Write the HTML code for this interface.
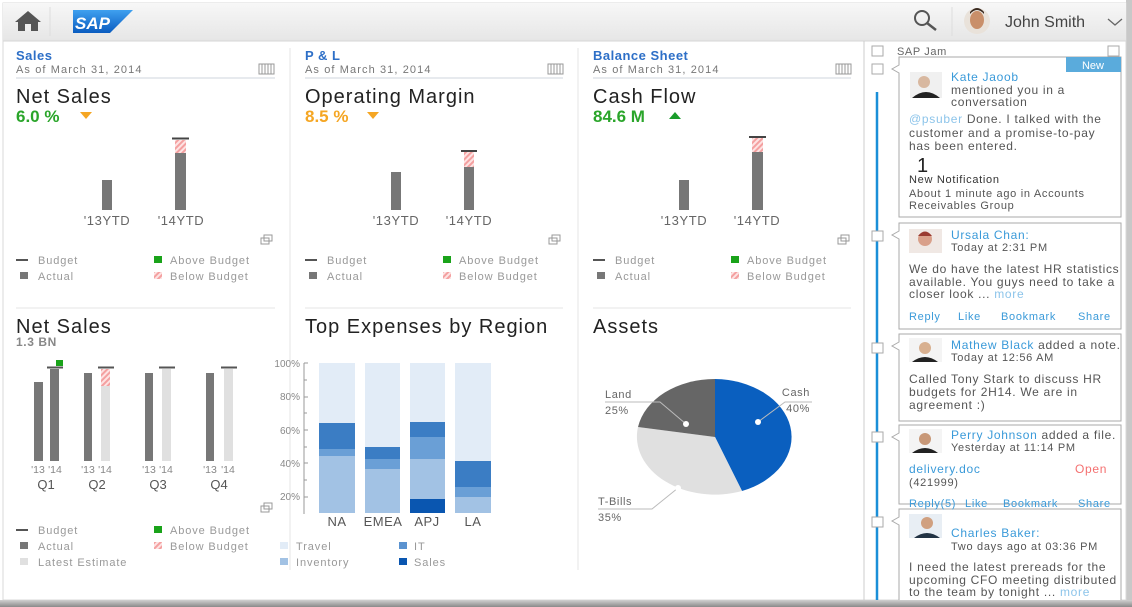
<!DOCTYPE html>
<html><head><meta charset="utf-8"><style>
html,body{margin:0;padding:0;background:#fff;}
svg{display:block;font-family:"Liberation Sans",sans-serif;}
.t{font-size:20px;letter-spacing:1px;fill:#222}
.sub{letter-spacing:1.1px}
.lg text{letter-spacing:0.9px}
.sb text{letter-spacing:0.7px}
.yl{font-size:13px;letter-spacing:0.6px}
</style></head><body>
<svg width="1132" height="607" viewBox="0 0 1132 607" xmlns="http://www.w3.org/2000/svg">
<defs>
<pattern id="h" width="4" height="4" patternUnits="userSpaceOnUse" patternTransform="rotate(45)">
<rect width="4" height="4" fill="#fde3e3"/><rect width="2" height="4" fill="#f4a0a0"/></pattern>
<linearGradient id="hd" x1="0" y1="0" x2="0" y2="1"><stop offset="0" stop-color="#f7f7f7"/><stop offset="1" stop-color="#e6e6e6"/></linearGradient>
<linearGradient id="sh" x1="0" y1="0" x2="0" y2="1"><stop offset="0" stop-color="#d0d0d0"/><stop offset="1" stop-color="#8a8a8a"/></linearGradient>
<linearGradient id="sap" x1="0" y1="0" x2="0" y2="1"><stop offset="0" stop-color="#3fa0ef"/><stop offset="1" stop-color="#0a5cc0"/></linearGradient>
</defs>
<rect x="0" y="0" width="1132" height="607" fill="#fff"/>
<rect x="1126" y="0" width="6" height="607" fill="#c8c8c8"/>
<rect x="3" y="3" width="1123" height="597" fill="#fff" stroke="#d8d8d8"/>
<rect x="3" y="3" width="1123" height="38" fill="url(#hd)"/>
<line x1="3" y1="41" x2="1126" y2="41" stroke="#d6d6d6"/>
<path d="M15 22 L28 11 L41 22 L38 22 L38 31 L18 31 L18 22 Z" fill="#555"/>
<rect x="25" y="24" width="6" height="7" fill="#eee"/>
<line x1="50" y1="7" x2="50" y2="36" stroke="#ddd"/>
<path d="M73 10 L133 10 L110 33 L73 33 Z" fill="url(#sap)"/>
<text x="75" y="29" font-size="17" font-weight="bold" fill="#fff" font-style="italic">SAP</text>
<circle cx="922" cy="18" r="7" fill="none" stroke="#555" stroke-width="2"/>
<line x1="927" y1="23" x2="936" y2="30" stroke="#555" stroke-width="2.5"/>
<line x1="952" y1="7" x2="952" y2="36" stroke="#ddd"/>
<circle cx="977" cy="21" r="13" fill="#e9e2da"/>
<ellipse cx="977" cy="20" rx="7" ry="9" fill="#c98f6a"/>
<path d="M970 14 Q977 6 984 14 L984 12 Q977 4 970 12Z" fill="#3a2a20"/>
<text x="1005" y="27" font-size="16" fill="#444">John Smith</text>
<path d="M1108 19 L1115 25 L1122 19" fill="none" stroke="#666" stroke-width="1.3"/>
<line x1="290" y1="48" x2="290" y2="570" stroke="#e6e6e6"/>
<line x1="578" y1="48" x2="578" y2="570" stroke="#e6e6e6"/>
<line x1="864" y1="41" x2="864" y2="600" stroke="#ccc"/>

<g>
<text x="16" y="60" font-size="13" fill="#2d6fc7" font-weight="bold" letter-spacing="0.5">Sales</text>
<text x="16" y="73" font-size="11" fill="#777" class="sub">As of March 31, 2014</text>
<line x1="16" y1="78" x2="275" y2="78" stroke="#dfe3e8" stroke-width="1.5"/>
<text x="16" y="103" class="t">Net Sales</text>
<text x="16" y="122" font-size="17" fill="#2aa52a" font-weight="bold">6.0 %</text>
<path d="M80 112 L92 112 L86 119 Z" fill="#f5a623"/>
<rect x="102" y="180" width="10" height="30" fill="#777"/>
<rect x="175" y="153" width="11" height="57" fill="#777"/>
<rect x="175" y="140" width="11" height="13" fill="url(#h)"/>
<line x1="172" y1="138.5" x2="189" y2="138.5" stroke="#444" stroke-width="2"/>
<text x="107" y="225" class="yl" fill="#666" text-anchor="middle">'13YTD</text>
<text x="181" y="225" class="yl" fill="#666" text-anchor="middle">'14YTD</text>
</g>
<g>
<text x="305" y="60" font-size="13" fill="#2d6fc7" font-weight="bold" letter-spacing="0.5">P &amp; L</text>
<text x="305" y="73" font-size="11" fill="#777" class="sub">As of March 31, 2014</text>
<line x1="305" y1="78" x2="563" y2="78" stroke="#dfe3e8" stroke-width="1.5"/>
<text x="305" y="103" class="t">Operating Margin</text>
<text x="305" y="122" font-size="17" fill="#f5a623" font-weight="bold">8.5 %</text>
<path d="M367 112 L379 112 L373 119 Z" fill="#f5a623"/>
<rect x="391" y="172" width="10" height="38" fill="#777"/>
<rect x="464" y="167" width="10" height="43" fill="#777"/>
<rect x="464" y="152" width="10" height="15" fill="url(#h)"/>
<line x1="461" y1="151" x2="477" y2="151" stroke="#444" stroke-width="2"/>
<text x="396" y="225" class="yl" fill="#666" text-anchor="middle">'13YTD</text>
<text x="469" y="225" class="yl" fill="#666" text-anchor="middle">'14YTD</text>
</g>
<g>
<text x="593" y="60" font-size="13" fill="#2d6fc7" font-weight="bold" letter-spacing="0.5">Balance Sheet</text>
<text x="593" y="73" font-size="11" fill="#777" class="sub">As of March 31, 2014</text>
<line x1="593" y1="78" x2="851" y2="78" stroke="#dfe3e8" stroke-width="1.5"/>
<text x="593" y="103" class="t">Cash Flow</text>
<text x="593" y="122" font-size="17" fill="#2aa52a" font-weight="bold">84.6 M</text>
<path d="M669 119 L681 119 L675 112 Z" fill="#1a9c2a"/>
<rect x="679" y="180" width="10" height="30" fill="#777"/>
<rect x="752" y="152" width="11" height="58" fill="#777"/>
<rect x="752" y="138" width="11" height="14" fill="url(#h)"/>
<line x1="749" y1="137" x2="766" y2="137" stroke="#444" stroke-width="2"/>
<text x="684" y="225" class="yl" fill="#666" text-anchor="middle">'13YTD</text>
<text x="757" y="225" class="yl" fill="#666" text-anchor="middle">'14YTD</text>
</g>
<g fill="none" stroke="#999" stroke-width="1">
<rect x="259" y="64" width="15" height="10"/><path d="M262 64V74M265 64V74M268 64V74M271 64V74"/>
<rect x="548" y="64" width="15" height="10"/><path d="M551 64V74M554 64V74M557 64V74M560 64V74"/>
<rect x="836" y="64" width="15" height="10"/><path d="M839 64V74M842 64V74M845 64V74M848 64V74"/>
<rect x="261" y="238" width="8" height="6"/><rect x="264" y="235" width="8" height="6"/>
<rect x="549" y="238" width="8" height="6"/><rect x="552" y="235" width="8" height="6"/>
<rect x="838" y="238" width="8" height="6"/><rect x="841" y="235" width="8" height="6"/>
<rect x="261" y="506" width="8" height="6"/><rect x="264" y="503" width="8" height="6"/>
</g>
<g font-size="11" fill="#999" class="lg">
<g><line x1="16" y1="260" x2="28" y2="260" stroke="#555" stroke-width="2"/><text x="38" y="264">Budget</text>
<rect x="20" y="272" width="8" height="7" fill="#777"/><text x="38" y="280">Actual</text>
<rect x="154" y="256" width="8" height="7" fill="#1aa31a"/><text x="170" y="264">Above Budget</text>
<rect x="154" y="272" width="8" height="7" fill="url(#h)"/><text x="170" y="280">Below Budget</text></g>
<g transform="translate(289,0)"><line x1="16" y1="260" x2="28" y2="260" stroke="#555" stroke-width="2"/><text x="38" y="264">Budget</text>
<rect x="20" y="272" width="8" height="7" fill="#777"/><text x="38" y="280">Actual</text>
<rect x="154" y="256" width="8" height="7" fill="#1aa31a"/><text x="170" y="264">Above Budget</text>
<rect x="154" y="272" width="8" height="7" fill="url(#h)"/><text x="170" y="280">Below Budget</text></g>
<g transform="translate(577,0)"><line x1="16" y1="260" x2="28" y2="260" stroke="#555" stroke-width="2"/><text x="38" y="264">Budget</text>
<rect x="20" y="272" width="8" height="7" fill="#777"/><text x="38" y="280">Actual</text>
<rect x="154" y="256" width="8" height="7" fill="#1aa31a"/><text x="170" y="264">Above Budget</text>
<rect x="154" y="272" width="8" height="7" fill="url(#h)"/><text x="170" y="280">Below Budget</text></g>
<g><line x1="16" y1="530" x2="28" y2="530" stroke="#555" stroke-width="2"/><text x="38" y="534">Budget</text>
<rect x="20" y="542" width="8" height="7" fill="#777"/><text x="38" y="550">Actual</text>
<rect x="20" y="558" width="8" height="7" fill="#e0e0e0"/><text x="38" y="566">Latest Estimate</text>
<rect x="154" y="526" width="8" height="7" fill="#1aa31a"/><text x="170" y="534">Above Budget</text>
<rect x="154" y="542" width="8" height="7" fill="url(#h)"/><text x="170" y="550">Below Budget</text></g>
<rect x="280" y="542" width="8" height="7" fill="#e2ecf7"/><text x="296" y="550">Travel</text>
<rect x="280" y="558" width="8" height="7" fill="#a2c2e4"/><text x="296" y="566">Inventory</text>
<rect x="399" y="542" width="8" height="7" fill="#5b93d0"/><text x="414" y="550">IT</text>
<rect x="399" y="558" width="8" height="7" fill="#0a56b0"/><text x="414" y="566">Sales</text>
</g>
<line x1="16" y1="308" x2="275" y2="308" stroke="#e6e6e6"/>
<line x1="305" y1="308" x2="563" y2="308" stroke="#e6e6e6"/>
<line x1="593" y1="308" x2="851" y2="308" stroke="#e6e6e6"/>
<text x="16" y="333" class="t">Net Sales</text>
<text x="16" y="346" font-size="12" fill="#888" font-weight="bold" letter-spacing="0.6">1.3 BN</text>
<g fill="#777">
<rect x="34" y="382" width="9" height="79"/><rect x="50" y="369" width="9" height="92"/>
<rect x="84" y="373" width="8" height="88"/><rect x="145" y="373" width="8" height="88"/><rect x="206" y="373" width="8" height="88"/>
</g>
<g fill="#e0e0e0"><rect x="101" y="386" width="9" height="75"/><rect x="162" y="369" width="9" height="92"/><rect x="224" y="369" width="9" height="92"/></g>
<rect x="101" y="369" width="9" height="17" fill="url(#h)"/>
<rect x="56" y="360" width="7" height="6" fill="#1aa31a"/>
<g stroke="#555" stroke-width="2"><line x1="47" y1="367.5" x2="63" y2="367.5"/><line x1="98" y1="367.5" x2="114" y2="367.5"/><line x1="159" y1="367.5" x2="175" y2="367.5"/><line x1="221" y1="367.5" x2="237" y2="367.5"/></g>
<g font-size="10.5" fill="#888" text-anchor="middle">
<text x="38" y="473">'13</text><text x="55" y="473">'14</text><text x="88" y="473">'13</text><text x="105" y="473">'14</text>
<text x="149" y="473">'13</text><text x="166" y="473">'14</text><text x="210" y="473">'13</text><text x="228" y="473">'14</text></g>
<g font-size="13" fill="#555" text-anchor="middle"><text x="46" y="489">Q1</text><text x="97" y="489">Q2</text><text x="158" y="489">Q3</text><text x="219" y="489">Q4</text></g>
<text x="305" y="333" class="t" letter-spacing="0.9">Top Expenses by Region</text>
<g font-size="10" fill="#888" text-anchor="end"><text x="300" y="367">100%</text><text x="300" y="400">80%</text><text x="300" y="434">60%</text><text x="300" y="467">40%</text><text x="300" y="500">20%</text></g>
<line x1="304" y1="363" x2="304" y2="514" stroke="#999"/>
<g stroke="#999"><line x1="304" y1="363" x2="308" y2="363"/><line x1="304" y1="380" x2="307" y2="380"/><line x1="304" y1="397" x2="308" y2="397"/><line x1="304" y1="413" x2="307" y2="413"/><line x1="304" y1="430" x2="308" y2="430"/><line x1="304" y1="447" x2="307" y2="447"/><line x1="304" y1="463" x2="308" y2="463"/><line x1="304" y1="480" x2="307" y2="480"/><line x1="304" y1="497" x2="308" y2="497"/></g>
<g>
<rect x="319" y="363" width="36" height="60" fill="#e2ecf7"/><rect x="319" y="423" width="36" height="26" fill="#3b7dc4"/><rect x="319" y="449" width="36" height="7" fill="#6a9fd6"/><rect x="319" y="456" width="36" height="57" fill="#a2c2e4"/>
<rect x="365" y="363" width="35" height="84" fill="#e2ecf7"/><rect x="365" y="447" width="35" height="12" fill="#3b7dc4"/><rect x="365" y="459" width="35" height="10" fill="#6a9fd6"/><rect x="365" y="469" width="35" height="44" fill="#a2c2e4"/>
<rect x="410" y="363" width="35" height="59" fill="#e2ecf7"/><rect x="410" y="422" width="35" height="15" fill="#3b7dc4"/><rect x="410" y="437" width="35" height="22" fill="#6a9fd6"/><rect x="410" y="459" width="35" height="40" fill="#a2c2e4"/><rect x="410" y="499" width="35" height="14" fill="#0a56b0"/>
<rect x="455" y="363" width="36" height="98" fill="#e2ecf7"/><rect x="455" y="461" width="36" height="26" fill="#3b7dc4"/><rect x="455" y="487" width="36" height="10" fill="#6a9fd6"/><rect x="455" y="497" width="36" height="16" fill="#a2c2e4"/>
</g>
<g font-size="13" fill="#555" text-anchor="middle" letter-spacing="0.5"><text x="337" y="526">NA</text><text x="383" y="526">EMEA</text><text x="427" y="526">APJ</text><text x="473" y="526">LA</text></g>
<text x="593" y="333" class="t">Assets</text>
<path d="M715 437 L715 379 A78 58 0 0 1 742 491 Z" fill="#0a5fbf"/>
<path d="M715 437 L742 491 A78 58 0 0 1 638 427 Z" fill="#e0e0e0"/>
<path d="M715 437 L638 427 A78 58 0 0 1 715 379 Z" fill="#666"/>
<g fill="none" stroke="#bbb"><path d="M758 422 L785 402 L812 402"/><path d="M605 402 L660 402 L686 424"/><path d="M598 509 L652 509 L678 488"/></g>
<g fill="#fff"><circle cx="758" cy="422" r="3"/><circle cx="686" cy="424" r="3"/><circle cx="678" cy="488" r="3"/></g>
<g font-size="11" fill="#666" letter-spacing="0.6"><text x="810" y="396" text-anchor="end">Cash</text><text x="810" y="412" text-anchor="end">40%</text>
<text x="605" y="398">Land</text><text x="605" y="414">25%</text><text x="598" y="505">T-Bills</text><text x="598" y="521">35%</text></g>
<g fill="#fff" stroke="#aaa"><rect x="872" y="46" width="11" height="10"/><rect x="1108" y="46" width="11" height="10"/></g>
<text x="897" y="55" font-size="11" fill="#666" letter-spacing="0.6">SAP Jam</text>
<line x1="877" y1="92" x2="877" y2="600" stroke="#1a8fd8" stroke-width="2.5"/>
<g fill="#fff" stroke="#aaa">
<path d="M899 57 H1121 V217 H899 V73 L892 69 L899 65 Z"/>
<path d="M899 223 H1121 V329 H899 V239 L892 235 L899 231 Z"/>
<path d="M899 334 H1121 V421 H899 V350 L892 346 L899 342 Z"/>
<path d="M899 425 H1121 V504 H899 V441 L892 437 L899 433 Z"/>
<path d="M899 509 H1121 V610 H899 V525 L892 521 L899 517 Z"/>
<rect x="872" y="64" width="11" height="10"/><rect x="872" y="231" width="11" height="10"/><rect x="872" y="343" width="11" height="10"/><rect x="872" y="432" width="11" height="10"/><rect x="872" y="517" width="11" height="10"/>
</g>
<rect x="1066" y="57" width="55" height="15" fill="#5aabdc"/>
<text x="1093" y="69" font-size="11" fill="#fff" text-anchor="middle">New</text>
<g>
<rect x="910" y="72" width="32" height="26" fill="#f0f0f0"/><circle cx="924" cy="82" r="6" fill="#d8b8a0"/><path d="M912 98 Q926 86 940 98Z" fill="#222"/>
<rect x="909" y="229" width="33" height="24" fill="#f0e8e4"/><circle cx="925" cy="239" r="7" fill="#d9a08a"/><path d="M918 236 Q925 227 932 236" fill="#9a3a30"/>
<rect x="909" y="338" width="33" height="24" fill="#f4f4f4"/><circle cx="925" cy="348" r="6" fill="#d8b090"/><path d="M912 362 Q925 352 938 362Z" fill="#222"/>
<rect x="909" y="429" width="33" height="24" fill="#f4f4f4"/><circle cx="925" cy="439" r="6" fill="#c89878"/><path d="M912 453 Q925 443 938 453Z" fill="#222"/>
<rect x="909" y="514" width="33" height="24" fill="#e8eef4"/><circle cx="927" cy="523" r="6" fill="#d0a080"/><path d="M914 538 Q927 528 940 538Z" fill="#234"/>
</g>
<g font-size="12" fill="#555" class="sb">
<text x="951" y="81" fill="#3a9ad9">Kate Jaoob</text>
<text x="951" y="94">mentioned you in a</text><text x="951" y="106">conversation</text>
<text x="909" y="123"><tspan fill="#8cc4ea">@psuber</tspan> Done. I talked with the</text>
<text x="909" y="137">customer and a promise-to-pay</text><text x="909" y="150">has been entered.</text>
<text x="917" y="172" font-size="20" fill="#222">1</text>
<text x="909" y="183" font-size="11" fill="#333">New Notification</text>
<text x="909" y="197" font-size="11">About 1 minute ago in Accounts</text><text x="909" y="209" font-size="11">Receivables Group</text>

<text x="951" y="239" fill="#3a9ad9">Ursala Chan:</text><text x="951" y="251" font-size="11">Today at 2:31 PM</text>
<text x="909" y="273">We do have the latest HR statistics</text><text x="909" y="286">available. You guys need to take a</text>
<text x="909" y="298">closer look ... <tspan fill="#8cc4ea">more</tspan></text>
<g fill="#3a9ad9" font-size="11"><text x="909" y="320">Reply</text><text x="958" y="320">Like</text><text x="1001" y="320">Bookmark</text><text x="1078" y="320">Share</text></g>

<text x="951" y="349"><tspan fill="#3a9ad9">Mathew Black</tspan> added a note.</text><text x="951" y="361" font-size="11">Today at 12:56 AM</text>
<text x="909" y="383">Called Tony Stark to discuss HR</text><text x="909" y="396">budgets for 2H14. We are in</text><text x="909" y="409">agreement :)</text>

<text x="951" y="439"><tspan fill="#3a9ad9">Perry Johnson</tspan> added a file.</text><text x="951" y="451" font-size="11">Yesterday at 11:14 PM</text>
<text x="909" y="473" fill="#3a9ad9" font-size="12">delivery.doc</text><text x="1075" y="473" fill="#f47070">Open</text>
<text x="909" y="486" font-size="11">(421999)</text>
<g fill="#3a9ad9" font-size="11"><text x="909" y="507">Reply(5)</text><text x="965" y="507">Like</text><text x="1003" y="507">Bookmark</text><text x="1078" y="507">Share</text></g>

<text x="951" y="537" fill="#3a9ad9">Charles Baker:</text><text x="951" y="550" font-size="11">Two days ago at 03:36 PM</text>
<text x="909" y="571">I need the latest prereads for the</text><text x="909" y="584">upcoming CFO meeting distributed</text>
<text x="909" y="596">to the team by tonight ... <tspan fill="#8cc4ea">more</tspan></text>
</g>
<rect x="0" y="600" width="1132" height="7" fill="url(#sh)"/>
</svg>
</body></html>
